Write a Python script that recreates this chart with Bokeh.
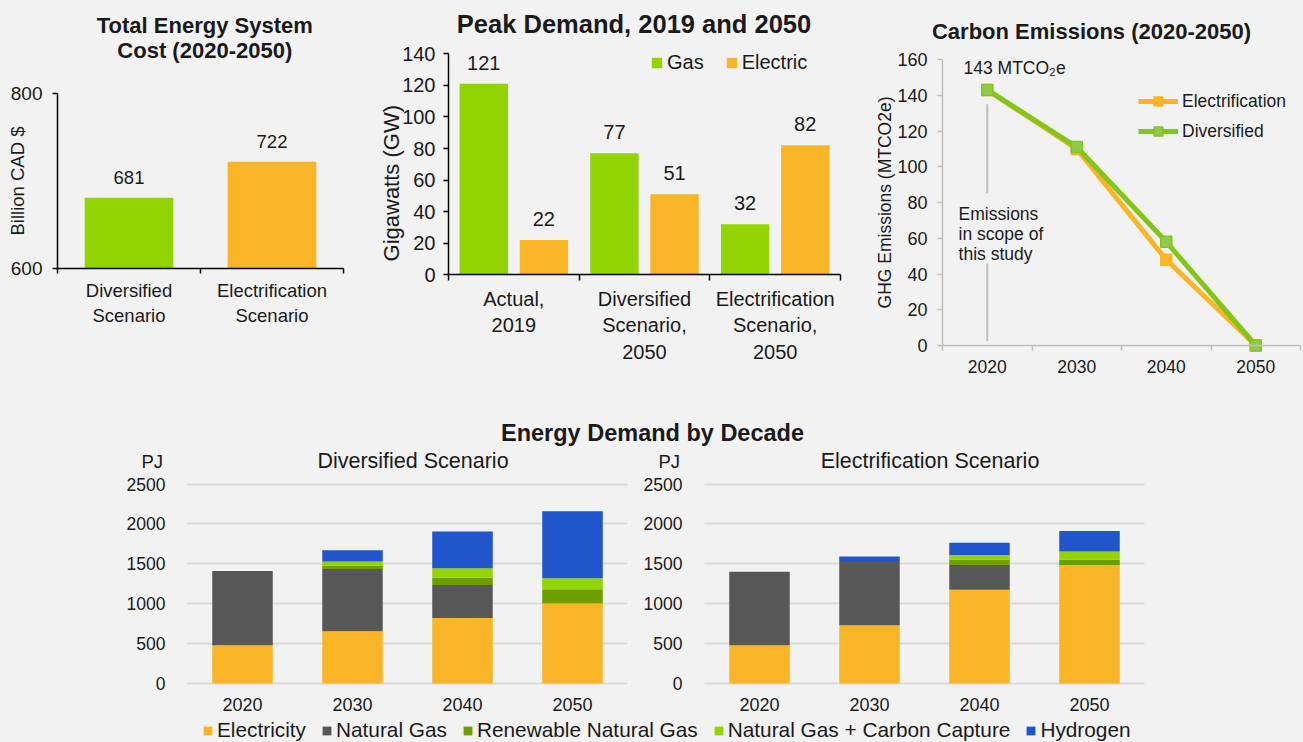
import math
from bokeh.plotting import figure
from bokeh.layouts import row, column
from bokeh.models import (Range1d, FixedTicker, Label, LabelSet, ColumnDataSource,
                          Legend, LegendItem)
from bokeh.core.properties import value
from bokeh.embed import file_html
from bokeh.resources import INLINE

FONT = "Liberation Sans"
BG = "#F2F2F2"
ORANGE = "#F9B526"
LIME = "#92D400"
GRAY = "#575757"
OLIVE = "#6C9E00"
BLUE = "#2155CB"
LINE_GREEN = "#83C51A"
MARK_GREEN = "#8FCB4A"
AXIS_GRAY = "#BFBFBF"
GRID_GRAY = "#D9D9D9"
TXT = "#1A1A1A"

# ---------------- data ----------------
cost_scenarios = ["Diversified\nScenario", "Electrification\nScenario"]
cost_values = [681, 722]

peak_groups = ["Actual,\n2019", "Diversified\nScenario,\n2050", "Electrification\nScenario,\n2050"]
peak_gas = [121, 77, 32]
peak_electric = [22, 51, 82]

em_years = ["2020", "2030", "2040", "2050"]
em_electrification = [143, 110, 48, 0]
em_diversified = [143, 111, 58, 0]

decades = ["2020", "2030", "2040", "2050"]
fuels = ["Electricity", "Natural Gas", "Renewable Natural Gas",
         "Natural Gas + Carbon Capture", "Hydrogen"]
div_electricity = [480, 655, 820, 1005]
div_natural_gas = [930, 780, 415, 5]
div_rng = [0, 40, 90, 170]
div_ngcc = [0, 55, 120, 140]
div_hydrogen = [0, 140, 460, 840]
ele_electricity = [480, 730, 1175, 1485]
ele_natural_gas = [920, 805, 310, 0]
ele_rng = [0, 0, 65, 70]
ele_ngcc = [0, 0, 60, 100]
ele_hydrogen = [0, 55, 155, 255]
fuel_colors = [ORANGE, GRAY, OLIVE, LIME, BLUE]


def xr(d0, p0, d1, p1, size):
    """Range so that data d0 sits at pixel p0 and d1 at p1 (pixels from the left)."""
    b = (p1 - p0) / (d1 - d0)
    return Range1d(d0 - p0 / b, d0 + (size - p0) / b)


def yr(d0, p0, d1, p1, size):
    """Range so that data d0 sits at pixel p0 and d1 at p1 (pixels from the top)."""
    b = (p1 - p0) / (d1 - d0)
    return Range1d(d0 + (size - p0) / b, d0 - p0 / b)


def make_fig(width, height, x_range, y_range, axes=True):
    kw = {}
    if not axes:
        kw = dict(x_axis_type=None, y_axis_type=None)
    p = figure(width=width, height=height, x_range=x_range, y_range=y_range,
               output_backend="svg", toolbar_location=None,
               background_fill_color=BG, border_fill_color=BG, outline_line_color=None,
               min_border_left=0, min_border_right=0, min_border_top=0,
               min_border_bottom=0, styles={"background-color": BG}, **kw)
    p.xgrid.grid_line_color = None
    p.ygrid.grid_line_color = None
    return p


def add_label(p, x, y, text, size, bold=False, align="center", baseline="middle",
              angle=0.0, color=TXT):
    p.add_layout(Label(x=x, y=y, text=text, text_font=FONT,
                       text_font_size=f"{size}px",
                       text_font_style="bold" if bold else "normal",
                       text_align=align, text_baseline=baseline, angle=angle,
                       text_color=color))


def style_axes(p, xsize, ysize, color, width=1.5, label_color=TXT):
    for ax in p.axis:
        ax.axis_line_color = color
        ax.axis_line_width = width
        ax.major_tick_line_color = color
        ax.major_tick_line_width = width
        ax.minor_tick_line_color = color
        ax.minor_tick_line_width = width
        ax.major_label_text_font = FONT
        ax.major_label_text_color = label_color
        ax.major_tick_in = 0
        ax.minor_tick_in = 0
    p.xaxis.major_label_text_font_size = f"{xsize}px"
    p.yaxis.major_label_text_font_size = f"{ysize}px"
    p.yaxis.minor_tick_line_color = None


# ---------------- A: total cost ----------------
nA = len(cost_values)
xA = [i + 0.5 for i in range(nA)]
pA = make_fig(360, 400, xr(0, 57, nA, 343, 360), yr(800, 93, 600, 268, 400))
srcA = ColumnDataSource(dict(x=xA, top=cost_values, color=[LIME, ORANGE],
                             label=[str(v) for v in cost_values]))
pA.vbar(x="x", top="top", bottom=600, width=0.62, fill_color="color",
        line_color=None, source=srcA)
pA.add_layout(LabelSet(x="x", y="top", text="label", source=srcA, y_offset=20,
                       text_align="center", text_baseline="middle",
                       text_font=value(FONT), text_font_size="18.5px", text_color=TXT))
style_axes(pA, 18.5, 19, "#000000")
pA.yaxis.fixed_location = 0
pA.yaxis.bounds = (600, 800)
pA.yaxis.ticker = FixedTicker(ticks=[600, 800])
pA.yaxis.major_tick_out = 5
pA.yaxis.major_label_standoff = 10
pA.xaxis.fixed_location = 600
pA.xaxis.bounds = (0, nA)
pA.xaxis.ticker = FixedTicker(ticks=xA, minor_ticks=list(range(nA + 1)))
pA.xaxis.major_tick_out = 0
pA.xaxis.minor_tick_out = 5
pA.xaxis.major_label_standoff = 6
pA.xaxis.major_label_overrides = {x: s for x, s in zip(xA, cost_scenarios)}
add_label(pA, 1.03, 878, "Total Energy System", 22, bold=True)
add_label(pA, 1.03, 849, "Cost (2020-2050)", 22, bold=True)
add_label(pA, -0.28, 700, "Billion CAD $", 18.5, angle=math.pi / 2)

# ---------------- B: peak demand ----------------
nB = len(peak_groups)
xG = [i + 0.27 for i in range(nB)]
xE = [i + 0.73 for i in range(nB)]
xB = [i + 0.5 for i in range(nB)]
pB = make_fig(500, 400, xr(0, 88, nB, 480, 500), yr(140, 53.3, 0, 274.3, 400))
srcG = ColumnDataSource(dict(x=xG, top=peak_gas, label=[str(v) for v in peak_gas]))
srcE = ColumnDataSource(dict(x=xE, top=peak_electric, label=[str(v) for v in peak_electric]))
pB.vbar(x="x", top="top", width=0.37, fill_color=LIME, line_color=None, source=srcG,
        legend_label="Gas")
pB.vbar(x="x", top="top", width=0.37, fill_color=ORANGE, line_color=None, source=srcE,
        legend_label="Electric")
for s in (srcG, srcE):
    pB.add_layout(LabelSet(x="x", y="top", text="label", source=s, y_offset=21,
                           text_align="center", text_baseline="middle",
                           text_font=value(FONT), text_font_size="20px", text_color=TXT))
style_axes(pB, 20, 20, "#000000")
pB.yaxis.fixed_location = 0
pB.yaxis.bounds = (0, 140)
pB.yaxis.ticker = FixedTicker(ticks=list(range(0, 141, 20)))
pB.yaxis.major_tick_out = 5
pB.yaxis.major_label_standoff = 8
pB.xaxis.fixed_location = 0
pB.xaxis.bounds = (0, nB)
pB.xaxis.ticker = FixedTicker(ticks=xB, minor_ticks=list(range(nB + 1)))
pB.xaxis.major_tick_out = 0
pB.xaxis.minor_tick_out = 6
pB.xaxis.major_label_standoff = 7
pB.xaxis.major_label_overrides = {x: s for x, s in zip(xB, peak_groups)}
legB = pB.legend[0]
legB.orientation = "horizontal"
legB.location = (290, 326)
legB.glyph_width = 13
legB.glyph_height = 13
legB.label_standoff = 4
legB.spacing = 21
legB.padding = 0
legB.margin = 0
legB.border_line_color = None
legB.background_fill_alpha = 0
legB.label_text_font = FONT
legB.label_text_font_size = "20px"
legB.label_text_color = TXT
add_label(pB, 1.42, 159, "Peak Demand, 2019 and 2050", 25.5, bold=True)
add_label(pB, -0.44, 58, "Gigawatts (GW)", 22, angle=math.pi / 2)

# ---------------- C: carbon emissions ----------------
nC = len(em_years)
xC = [i + 0.5 for i in range(nC)]
pC = make_fig(443, 400, xr(0, 82, nC, 440, 443), yr(160, 59, 0, 345, 400))
# annotation line for "Emissions in scope of this study"
pC.segment(x0=[xC[0], xC[0]], y0=[135, 46], x1=[xC[0], xC[0]], y1=[85, 2.5],
           line_color=AXIS_GRAY, line_width=2)
le = pC.line(xC, em_electrification, line_color=ORANGE, line_width=5)
se = pC.scatter(xC, em_electrification, marker="square", size=11,
                fill_color=ORANGE, line_color=ORANGE, line_width=1.5)
ld = pC.line(xC, em_diversified, line_color=LINE_GREEN, line_width=5)
sd = pC.scatter(xC, em_diversified, marker="square", size=11,
                fill_color=MARK_GREEN, line_color=LINE_GREEN, line_width=1.5)
style_axes(pC, 17.5, 18, AXIS_GRAY, label_color=TXT)
pC.yaxis.fixed_location = 0
pC.yaxis.bounds = (0, 160)
pC.yaxis.ticker = FixedTicker(ticks=list(range(0, 161, 20)))
pC.yaxis.major_tick_out = 5
pC.yaxis.major_label_standoff = 10
pC.xaxis.fixed_location = 0
pC.xaxis.bounds = (0, nC)
pC.xaxis.ticker = FixedTicker(ticks=xC, minor_ticks=list(range(nC + 1)))
pC.xaxis.major_tick_out = 0
pC.xaxis.minor_tick_out = 5
pC.xaxis.major_label_standoff = 9
pC.xaxis.major_label_overrides = {x: s for x, s in zip(xC, em_years)}
legC = Legend(items=[LegendItem(label="Electrification", renderers=[le, se]),
                     LegendItem(label="Diversified", renderers=[ld, sd])],
              location=(278, 258), glyph_width=40, glyph_height=22, label_standoff=4,
              spacing=8, padding=0, margin=0, border_line_color=None,
              background_fill_alpha=0, label_text_font=FONT,
              label_text_font_size="17.5px", label_text_color=TXT)
pC.add_layout(legC, "center")
add_label(pC, 1.665, 175.5, "Carbon Emissions (2020-2050)", 22, bold=True)
add_label(pC, -0.648, 80, "GHG Emissions (MTCO2e)", 17.5, angle=math.pi / 2)
add_label(pC, 0.235, 155, "143 MTCO\u2082e", 17.5, align="left")
add_label(pC, 0.18, 73.8, "Emissions", 17.5, align="left")
add_label(pC, 0.18, 62.6, "in scope of", 17.5, align="left")
add_label(pC, 0.18, 51.4, "this study", 17.5, align="left")

# ---------------- title of bottom section ----------------
pT = make_fig(1303, 48, Range1d(0, 1303), Range1d(0, 48), axes=False)
add_label(pT, 652, 16, "Energy Demand by Decade", 23.5, bold=True)


# ---------------- D / E: stacked energy demand ----------------
def stacked(width, x0px, title, series):
    n = len(decades)
    xs = [i + 0.5 for i in range(n)]
    unit = 110.0
    p = make_fig(width, 270, xr(0, x0px, n, x0px + n * unit, width),
                 yr(2500, 35.5, 0, 235.0, 270))
    keys = ["f%d" % i for i in range(len(fuels))]
    data = {"x": xs}
    for k, s in zip(keys, series):
        data[k] = s
    ticks = list(range(0, 2501, 500))
    grid = p.ygrid[0]
    grid.ticker = FixedTicker(ticks=ticks)
    grid.grid_line_color = GRID_GRAY
    grid.grid_line_width = 2
    if hasattr(grid, "cross_bounds"):
        grid.cross_bounds = (0, n)
    p.vbar_stack(stackers=keys, x="x", width=0.55, fill_color=fuel_colors,
                 line_color=None, source=ColumnDataSource(data))
    style_axes(p, 18, 17.5, None)
    for ax in p.axis:
        ax.axis_line_color = None
        ax.major_tick_line_color = None
        ax.minor_tick_line_color = None
    p.yaxis.fixed_location = 0
    p.yaxis.bounds = (0, 2500)
    p.yaxis.ticker = FixedTicker(ticks=ticks)
    p.yaxis.major_label_standoff = 16
    p.xaxis.fixed_location = 0
    p.xaxis.bounds = (0, n)
    p.xaxis.ticker = FixedTicker(ticks=xs)
    p.xaxis.major_label_standoff = 8
    p.xaxis.major_label_overrides = {x: s for x, s in zip(xs, decades)}
    add_label(p, -0.32, 2783, "PJ", 18.5)
    add_label(p, 2.05, 2783, title, 21.5)
    return p


pD = stacked(640, 187, "Diversified Scenario",
             [div_electricity, div_natural_gas, div_rng, div_ngcc, div_hydrogen])
pE = stacked(663, 64, "Electrification Scenario",
             [ele_electricity, ele_natural_gas, ele_rng, ele_ngcc, ele_hydrogen])

# ---------------- bottom legend ----------------
pL = make_fig(1303, 24, Range1d(0, 1303), Range1d(0, 24), axes=False)
items = []
for name, c in zip(fuels, fuel_colors):
    # zero-size swatch renderer: only used to draw the legend key
    r = pL.vbar(x=[0], top=[0], bottom=[0], width=0, fill_color=c, line_color=None)
    items.append(LegendItem(label=name, renderers=[r]))
legL = Legend(items=items, orientation="horizontal", location=(202, 0),
              glyph_width=11, glyph_height=11, label_standoff=4, spacing=15,
              padding=0, margin=0, border_line_color=None, background_fill_alpha=0,
              label_text_font=FONT, label_text_font_size="20.8px", label_text_color=TXT,
              label_height=18)
pL.add_layout(legL, "center")

top_row = row(pA, pB, pC, spacing=0, styles={"background-color": BG})
bottom_row = row(pD, pE, spacing=0, styles={"background-color": BG})
layout = column(top_row, pT, bottom_row, pL, spacing=0, styles={"background-color": BG})

open("out.html", "w").write(file_html(layout, INLINE))
